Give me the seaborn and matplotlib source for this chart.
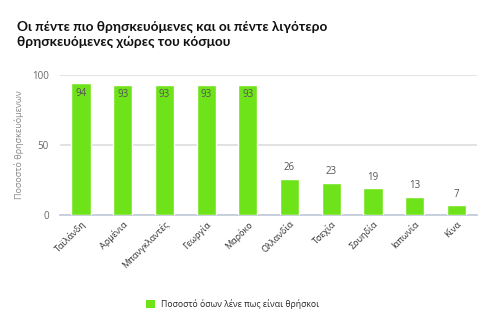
import matplotlib
matplotlib.use("Agg")
import matplotlib.pyplot as plt
import seaborn as sns
import pandas as pd
from matplotlib.patches import Patch

countries = ["Ταϊλάνδη", "Αρμένια", "Μπανγκλαντές", "Γεωργία", "Μαρόκο",
             "Ολλανδία", "Τσεχία", "Σουηδία", "Ιαπωνία", "Κίνα"]
values = [94, 93, 93, 93, 93, 26, 23, 19, 13, 7]
yticks = [0, 50, 100]
title = "Οι πέντε πιο θρησκευόμενες και οι πέντε λιγότερο\nθρησκευόμενες χώρες του κόσμου"
ylabel = "Ποσοστό θρησκευόμενων"
legend_label = "Ποσοστό όσων λένε πως είναι θρήσκοι"

sns.set_theme(style="white")
plt.rcParams['font.family'] = ['Open Sans', 'DejaVu Sans']

green = "#6fe31a"
df = pd.DataFrame({"country": countries, "value": values})

fig = plt.figure(figsize=(4.85, 3.23), dpi=100)
ax = fig.add_axes([0.124, 0.334, 0.86, 0.434])
sns.barplot(data=df, x="country", y="value", color=green, width=0.46,
            saturation=1, ax=ax, zorder=3)

ax.set_ylim(0, 100)
ax.set_yticks(yticks)
ax.set_yticklabels([str(t) for t in yticks], fontsize=7, color="#666666")
ax.yaxis.grid(True, color="#dddddd", linewidth=1.2, zorder=0)
ax.set_xlim(-0.5, len(countries) - 0.5)
ax.set_xticks(range(len(countries)))
ax.set_xticklabels(countries, rotation=45, ha="right", rotation_mode="anchor",
                   fontsize=6.5, color="#333333")
ax.tick_params(axis="x", length=0, pad=3)
ax.tick_params(axis="y", length=0, pad=8)
ax.set_xticks([i - 0.5 for i in range(len(countries) + 1)], minor=True)
ax.tick_params(axis="x", which="minor", length=5, color="#c0cad8", width=1)
for s in ["top", "right", "left"]:
    ax.spines[s].set_visible(False)
ax.spines["bottom"].set_color("#c0cad8")
ax.set_xlabel("")
ax.set_ylabel(ylabel, fontsize=6.5, color="#888888", labelpad=6)

for i, v in enumerate(values):
    if v > 80:
        ax.text(i, v - 3, str(v), ha="center", va="top", fontsize=7, color="#555555", zorder=4)
    else:
        ax.text(i, v + 4, str(v), ha="center", va="bottom", fontsize=7, color="#555555", zorder=4)

fig.text(0.035, 0.937, title, ha="left", va="top", fontsize=9.8,
         fontweight="bold", color="#111111", linespacing=1.3,
         family=["Lato", "DejaVu Sans"])

handle = Patch(facecolor=green, edgecolor="none")
fig.legend([handle], [legend_label], loc="center", bbox_to_anchor=(0.479, 0.058),
           frameon=False, fontsize=6.2, handlelength=1.1, handleheight=1.1,
           handletextpad=0.6)

fig.savefig("out.png", dpi=100)
